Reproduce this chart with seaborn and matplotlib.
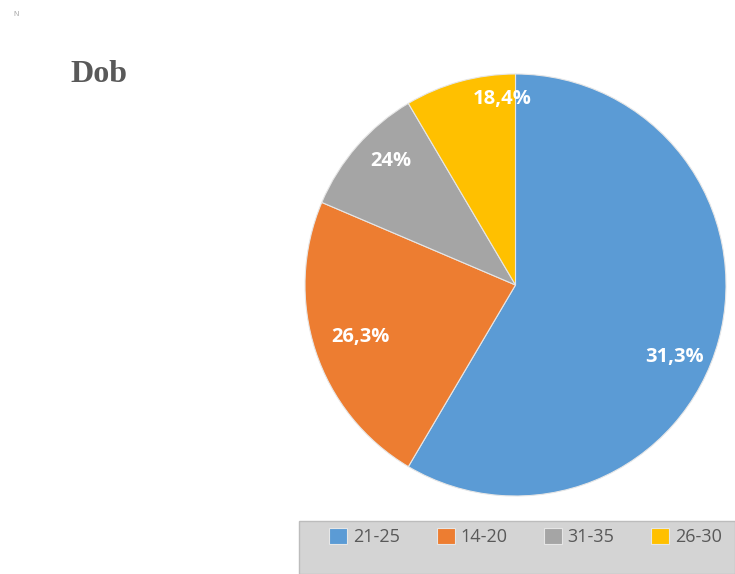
import matplotlib
matplotlib.use("Agg")
import matplotlib.pyplot as plt
import seaborn as sns
from matplotlib.patches import Rectangle

# data
categories = ["21-25", "14-20", "31-35", "26-30"]
slice_sizes = [58.5, 22.9, 10.1, 8.5]          # angular share of each wedge
pct_labels = ["31,3%", "26,3%", "24%", "18,4%"]  # labels as printed on the chart
colors = ["#5B9BD5", "#ED7D31", "#A5A5A5", "#FFC000"]

# label anchor points inside the pie (layout only)
label_pos = [(0.756, -0.341), (-0.737, -0.246), (-0.590, 0.588), (-0.064, 0.882)]

sns.set_theme(style="white")
plt.rcParams["font.family"] = ["Open Sans", "DejaVu Sans"]

W, H = 735, 574
fig = plt.figure(figsize=(W / 100, H / 100), dpi=100)
fig.patch.set_facecolor("white")

# pie spans x 305..726, y 74..496 in pixels
ax = fig.add_axes([305 / W, (H - 496) / H, 421 / W, 422 / H])
wedges, _ = ax.pie(slice_sizes, colors=colors, startangle=90, counterclock=False,
                   radius=1.0, wedgeprops=dict(edgecolor="#e6e6e6", linewidth=0.8))
ax.set_xlim(-1.0, 1.0)
ax.set_ylim(-1.0, 1.0)
ax.set_aspect("auto")
ax.axis("off")

for txt, (x, y) in zip(pct_labels, label_pos):
    ax.text(x, y, txt, ha="center", va="center", color="white",
            fontsize=14.5, fontweight="bold")

# title
fig.text(70 / W, 1 - 75 / H, "Dob", ha="left", va="center", color="#595959",
         fontsize=23, fontweight="bold", family=["Liberation Serif", "DejaVu Serif"])
# tiny mark in corner
fig.text(13 / W, 1 - 15 / H, "N", ha="left", va="center", color="#9a9a9a", fontsize=5)

# legend box
fig.patches.append(Rectangle((299 / W, 0), (W - 299) / W, (H - 521) / H,
                             transform=fig.transFigure, facecolor="#d4d4d4",
                             edgecolor="#bcbcbc", linewidth=1.0, zorder=0))
leg = fig.legend(wedges, categories, loc="center left", ncol=4,
                 bbox_to_anchor=(322 / W, 1 - 537 / H), frameon=False,
                 fontsize=13, handlelength=1.0, handleheight=1.0,
                 handletextpad=0.3, columnspacing=2.05, borderaxespad=0)
for t in leg.get_texts():
    t.set_color("#595959")

fig.savefig("out.png", dpi=100, facecolor="white")
